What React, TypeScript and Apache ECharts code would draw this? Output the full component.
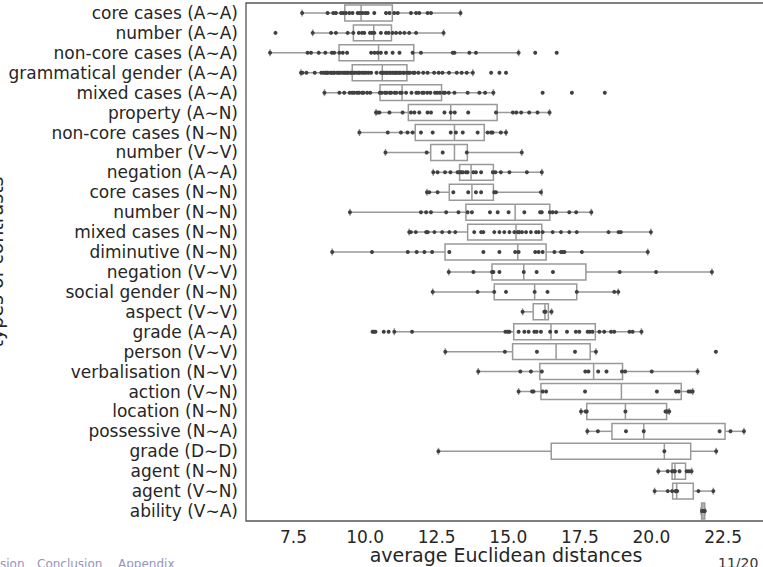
import React, { useEffect, useRef } from "react";
import * as echarts from "echarts";

const categories = [
  "core cases (A∼A)",
  "number (A∼A)",
  "non-core cases (A∼A)",
  "grammatical gender (A∼A)",
  "mixed cases (A∼A)",
  "property (A∼N)",
  "non-core cases (N∼N)",
  "number (V∼V)",
  "negation (A∼A)",
  "core cases (N∼N)",
  "number (N∼N)",
  "mixed cases (N∼N)",
  "diminutive (N∼N)",
  "negation (V∼V)",
  "social gender (N∼N)",
  "aspect (V∼V)",
  "grade (A∼A)",
  "person (V∼V)",
  "verbalisation (N∼V)",
  "action (V∼N)",
  "location (N∼N)",
  "possessive (N∼A)",
  "grade (D∼D)",
  "agent (N∼N)",
  "agent (V∼N)",
  "ability (V∼A)",
];

// [lower whisker, Q1, median, Q3, upper whisker]
const boxStats: number[][] = [
  [7.8, 9.29, 9.86, 10.95, 13.33],
  [8.17, 9.59, 10.3, 10.92, 12.74],
  [6.68, 9.09, 10.47, 11.7, 15.36],
  [7.76, 9.55, 10.6, 11.46, 13.76],
  [8.58, 10.52, 11.29, 12.67, 14.48],
  [10.38, 11.51, 12.99, 14.61, 16.44],
  [9.8, 11.75, 13.12, 14.16, 14.92],
  [10.71, 12.29, 13.12, 13.57, 15.47],
  [12.38, 13.3, 13.7, 14.48, 16.17],
  [12.16, 12.94, 13.73, 14.48, 16.17],
  [9.47, 13.52, 15.24, 16.45, 17.9],
  [11.54, 13.58, 15.27, 16.17, 19.98],
  [8.85, 12.79, 15.33, 16.32, 19.87],
  [12.92, 14.43, 15.54, 17.71, 22.11],
  [12.36, 14.51, 15.92, 17.39, 18.84],
  [15.5, 15.87, 16.28, 16.4, 16.51],
  [11.02, 15.19, 16.49, 18.04, 19.65],
  [12.8, 15.15, 16.67, 17.86, 18.06],
  [13.95, 16.1, 17.98, 18.99, 21.61],
  [15.36, 16.14, 18.95, 21.04, 21.44],
  [17.54, 17.74, 19.09, 20.53, 20.62],
  [17.76, 18.62, 19.73, 22.57, 23.23],
  [12.56, 16.5, 20.45, 21.37, 22.26],
  [20.24, 20.72, 20.82, 21.19, 21.4],
  [20.11, 20.74, 20.88, 21.46, 22.16],
  [21.72, 21.75, 21.8, 21.86, 21.88],
];

// individual observations per category (strip plot)
const stripValues: number[][] = [
  [7.8, 8.69, 8.89, 8.98, 9.16, 9.24, 9.33, 9.45, 9.56, 9.74, 9.82, 9.91, 10.01, 10.09, 10.32, 10.73, 10.85, 11.02, 11.14, 11.6, 11.78, 11.89, 12.18, 12.3, 13.33],
  [6.87, 8.17, 8.81, 8.98, 9.39, 9.59, 9.78, 9.89, 9.97, 10.17, 10.24, 10.32, 10.55, 10.73, 10.82, 10.96, 11.08, 11.22, 11.37, 11.54, 11.78, 12.74],
  [6.68, 7.99, 8.11, 8.38, 8.61, 8.84, 8.92, 9.1, 9.22, 9.37, 10.21, 10.33, 10.44, 10.55, 10.73, 10.96, 11.2, 11.66, 11.95, 13.06, 13.12, 13.64, 13.87, 15.36, 15.94, 16.69],
  [7.76, 7.81, 7.95, 8.24, 8.47, 8.55, 8.61, 8.67, 8.7, 8.79, 8.84, 8.9, 8.93, 9.02, 9.08, 9.11, 9.19, 9.26, 9.31, 9.37, 9.4, 9.49, 9.52, 9.6, 9.63, 9.71, 9.78, 9.81, 9.9, 9.97, 10.04, 10.12, 10.21, 10.4, 10.55, 10.61, 10.63, 10.7, 10.76, 10.78, 10.86, 10.88, 10.95, 11.0, 11.06, 11.08, 11.15, 11.21, 11.24, 11.33, 11.36, 11.45, 11.52, 11.57, 11.68, 11.73, 11.86, 12.03, 12.18, 12.41, 12.57, 12.7, 12.93, 13.2, 13.37, 13.55, 13.76, 14.4, 14.69, 14.92],
  [8.58, 9.1, 9.27, 9.46, 9.55, 9.62, 9.72, 9.79, 9.9, 9.94, 10.07, 10.18, 10.51, 10.58, 10.69, 10.75, 10.86, 10.91, 11.03, 11.09, 11.22, 11.28, 11.43, 11.62, 11.79, 11.86, 11.99, 12.05, 12.17, 12.28, 12.44, 12.52, 12.61, 12.74, 12.79, 12.92, 13.12, 13.58, 13.99, 14.19, 14.48, 16.2, 17.22, 18.37],
  [10.38, 10.44, 10.5, 10.85, 11.31, 11.6, 11.72, 11.89, 12.18, 12.3, 12.77, 12.99, 13.13, 13.6, 14.57, 15.16, 15.28, 15.45, 15.73, 16.02, 16.44],
  [9.8, 10.79, 11.25, 11.48, 11.66, 11.95, 12.36, 12.99, 13.17, 13.41, 13.93, 14.28, 14.4, 14.45, 14.74, 14.92],
  [10.71, 12.15, 12.71, 13.55, 15.47],
  [12.38, 12.53, 12.79, 12.98, 13.23, 13.29, 13.35, 13.41, 13.52, 13.58, 13.78, 13.87, 14.05, 14.46, 14.55, 14.74, 15.04, 15.65, 16.17],
  [12.16, 12.24, 12.53, 13.08, 13.6, 13.87, 14.05, 14.51, 14.57, 16.14],
  [9.47, 11.95, 12.13, 12.3, 12.83, 13.26, 13.58, 13.73, 14.36, 14.63, 15.01, 15.56, 16.11, 16.17, 16.45, 16.55, 16.67, 17.13, 17.37, 17.9],
  [11.54, 11.6, 11.77, 12.13, 12.19, 12.42, 12.69, 12.94, 13.15, 13.81, 14.05, 14.13, 14.51, 14.69, 14.86, 15.04, 15.21, 15.33, 15.39, 15.48, 15.62, 15.79, 15.97, 16.06, 16.2, 16.55, 16.84, 17.13, 17.39, 18.5, 18.85, 18.93, 19.98],
  [8.85, 10.24, 11.49, 11.8, 12.07, 12.34, 12.94, 14.13, 14.69, 15.24, 15.36, 15.94, 16.06, 16.2, 16.61, 16.84, 16.9, 16.96, 17.57, 19.87],
  [12.92, 13.78, 14.43, 14.48, 14.69, 15.54, 15.99, 16.56, 18.89, 20.16, 22.11],
  [12.36, 13.93, 14.51, 14.92, 15.92, 16.37, 17.39, 18.7, 18.84],
  [15.5, 16.26, 16.3, 16.51],
  [10.26, 10.31, 10.36, 10.65, 10.82, 11.02, 11.64, 14.9, 14.98, 15.04, 15.36, 15.56, 15.71, 15.91, 15.99, 16.14, 16.46, 16.67, 17.05, 17.36, 17.48, 17.77, 17.85, 17.94, 18.18, 18.35, 18.59, 18.7, 19.23, 19.34, 19.65],
  [12.8, 14.88, 16.0, 17.33, 18.06, 22.25],
  [13.95, 15.42, 15.79, 16.17, 17.69, 17.8, 18.14, 18.43, 18.97, 19.08, 20.01, 21.61],
  [15.36, 15.83, 15.88, 16.2, 16.32, 17.68, 20.19, 20.86, 20.95, 21.3, 21.37, 21.44],
  [17.54, 17.7, 17.74, 19.09, 20.49, 20.53, 20.57, 20.62],
  [17.76, 18.13, 19.11, 19.73, 22.38, 22.76, 23.23],
  [12.56, 20.45, 22.26],
  [20.24, 20.57, 20.72, 20.78, 20.82, 20.98, 21.23, 21.31, 21.4],
  [20.11, 20.57, 20.72, 20.84, 20.86, 20.9, 21.64, 22.16],
  [21.77, 21.8, 21.83, 21.86],
];

const xTicks = [7.5, 10, 12.5, 15, 17.5, 20, 22.5];
const xMin = 5.84;
const xMax = 24.0;

const FONT = '"DejaVu Sans", "Noto Sans", sans-serif';
const BOX_COLOR = "#999999";
const DOT_COLOR = "#404040";

export default function App() {
  const ref = useRef<HTMLDivElement>(null);

  useEffect(() => {
    if (!ref.current) return;
    const chart = echarts.init(ref.current, undefined, { renderer: "svg" });

    const boxData = boxStats.map((s, i) => [i, ...s]);
    const dotData: number[][] = [];
    stripValues.forEach((vals, i) => vals.forEach((v) => dotData.push([v, i])));

    const option: any = {
      animation: false,
      grid: {
        left: 246,
        top: 3,
        width: 520,
        height: 518,
        show: true,
        borderColor: "#555555",
        borderWidth: 1.3,
        containLabel: false,
        outerBoundsMode: "none",
      },
      xAxis: {
        type: "value",
        min: xMin,
        max: xMax,
        axisLine: { show: false },
        axisTick: { show: false },
        splitLine: { show: false },
        axisLabel: {
          customValues: xTicks,
          formatter: (v: number) => v.toFixed(1),
          fontSize: 17,
          fontFamily: FONT,
          color: "#262626",
          margin: 7,
        },
      },
      yAxis: {
        type: "category",
        data: categories,
        inverse: true,
        axisLine: { show: false },
        axisTick: { show: false },
        splitLine: { show: false },
        axisLabel: {
          interval: 0,
          fontSize: 17,
          fontFamily: FONT,
          color: "#262626",
          margin: 8,
        },
      },
      series: [
        {
          type: "custom",
          z: 2,
          data: boxData,
          encode: { x: [1, 2, 3, 4, 5], y: 0 },
          renderItem: (params: any, api: any) => {
            const cat = api.value(0);
            const lo = api.coord([api.value(1), cat]);
            const q1 = api.coord([api.value(2), cat]);
            const md = api.coord([api.value(3), cat]);
            const q3 = api.coord([api.value(4), cat]);
            const hi = api.coord([api.value(5), cat]);
            const band = api.size([0, 1])[1];
            const h = band * 0.8;
            const y = lo[1];
            const ls = { stroke: BOX_COLOR, lineWidth: 1.5 };
            return {
              type: "group",
              children: [
                { type: "line", shape: { x1: lo[0], y1: y, x2: q1[0], y2: y }, style: ls },
                { type: "line", shape: { x1: q3[0], y1: y, x2: hi[0], y2: y }, style: ls },
                { type: "line", shape: { x1: lo[0], y1: y - 3.5, x2: lo[0], y2: y + 3.5 }, style: ls },
                { type: "line", shape: { x1: hi[0], y1: y - 3.5, x2: hi[0], y2: y + 3.5 }, style: ls },
                {
                  type: "rect",
                  shape: { x: q1[0], y: y - h / 2, width: q3[0] - q1[0], height: h },
                  style: { fill: "#ffffff", stroke: BOX_COLOR, lineWidth: 1.5 },
                },
                { type: "line", shape: { x1: md[0], y1: y - h / 2, x2: md[0], y2: y + h / 2 }, style: ls },
              ],
            };
          },
        },
        {
          type: "scatter",
          z: 3,
          data: dotData,
          symbol: "circle",
          symbolSize: 4,
          itemStyle: { color: DOT_COLOR, opacity: 1 },
        },
      ],
      graphic: [
        {
          type: "text",
          x: -4.5,
          y: 262,
          rotation: Math.PI / 2,
          style: {
            text: "types of contrasts",
            font: `19px ${FONT}`,
            fill: "#262626",
            align: "center",
            verticalAlign: "middle",
          },
        },
        {
          type: "text",
          x: 506,
          y: 555,
          style: {
            text: "average Euclidean distances",
            font: `19px ${FONT}`,
            fill: "#262626",
            align: "center",
            verticalAlign: "middle",
          },
        },
        {
          type: "text",
          x: 0,
          y: 563.5,
          style: { text: "sion", font: `12px ${FONT}`, fill: "#9494c0", align: "left", verticalAlign: "middle" },
        },
        {
          type: "text",
          x: 37,
          y: 563.5,
          style: { text: "Conclusion", font: `12px ${FONT}`, fill: "#9494c0", align: "left", verticalAlign: "middle" },
        },
        {
          type: "text",
          x: 118,
          y: 563.5,
          style: { text: "Appendix", font: `12px ${FONT}`, fill: "#9494c0", align: "left", verticalAlign: "middle" },
        },
        {
          type: "text",
          x: 718,
          y: 563,
          style: { text: "11/20", font: `14px ${FONT}`, fill: "#333333", align: "left", verticalAlign: "middle" },
        },
      ],
    };

    chart.setOption(option);
    return () => chart.dispose();
  }, []);

  return (
    <div
      style={{
        position: "absolute",
        left: 0,
        top: 0,
        width: 763,
        height: 567,
        overflow: "hidden",
        background: "#ffffff",
      }}
    >
      <div ref={ref} style={{ width: 770, height: 567 }} />
    </div>
  );
}
